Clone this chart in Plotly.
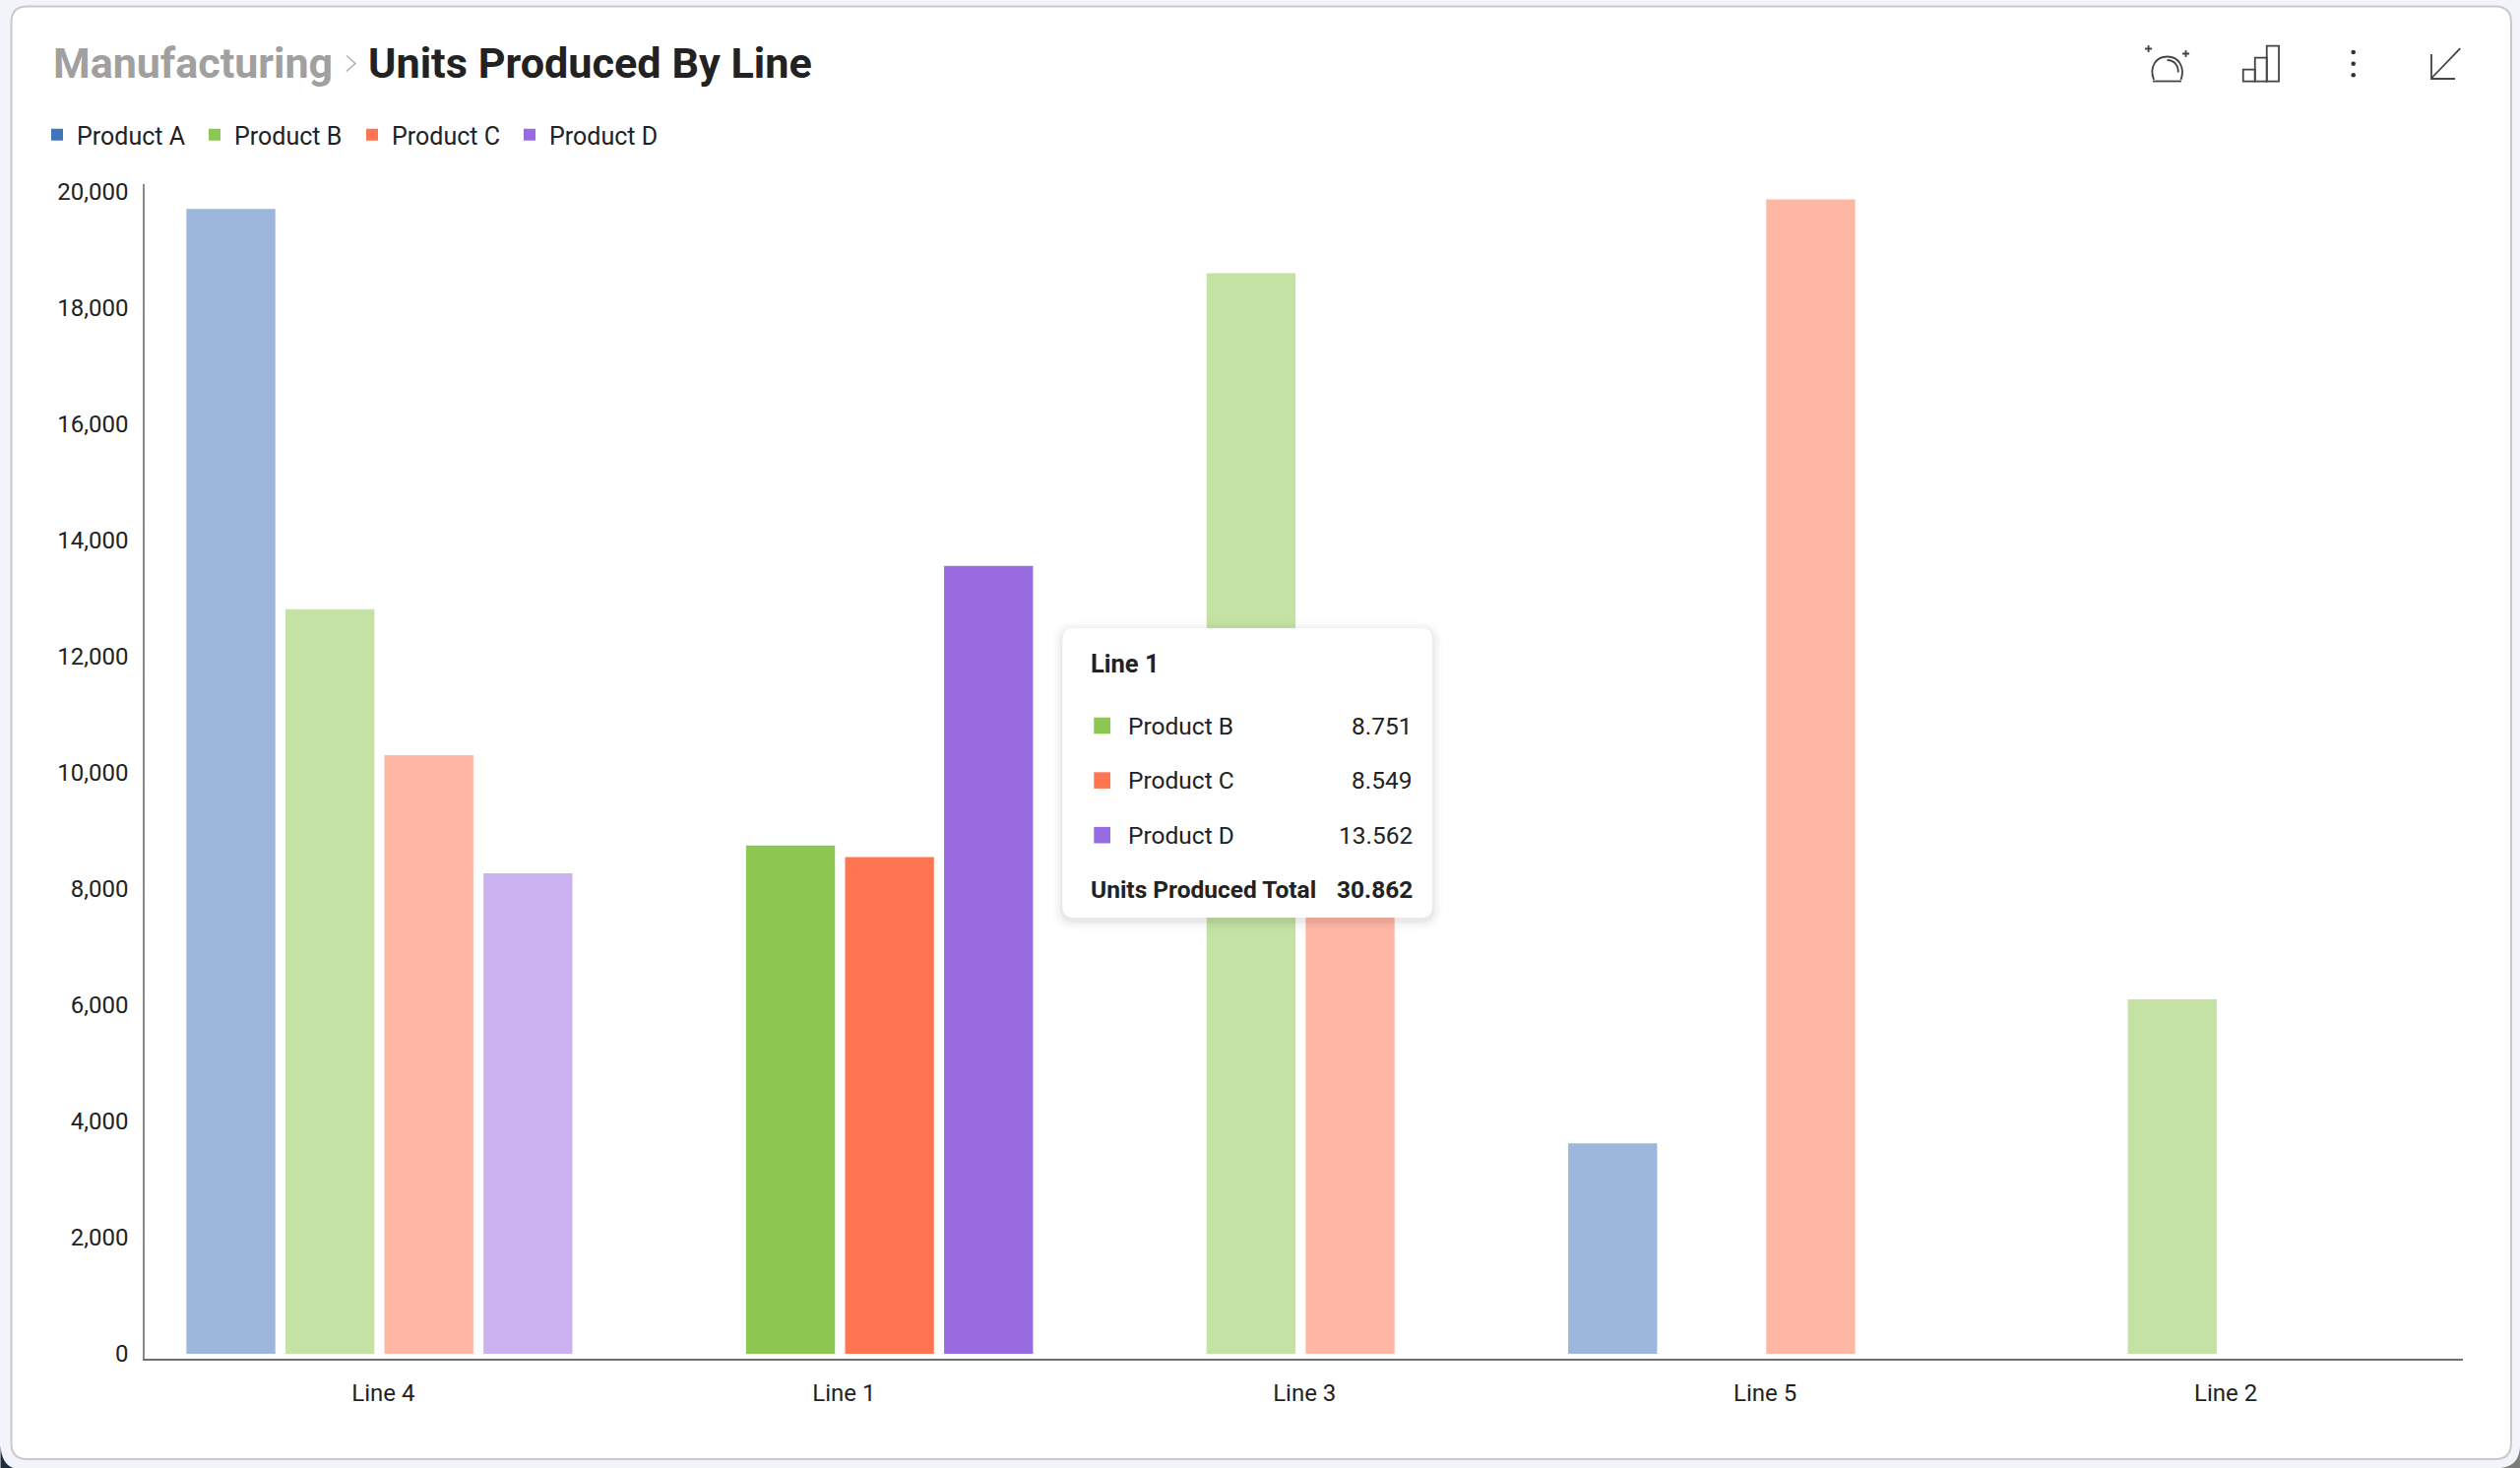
import plotly.graph_objects as go

lines = ["Line 4", "Line 1", "Line 3", "Line 5", "Line 2"]
product_a = [19710, None, None, 3624, None]
product_b = [12820, 8751, 18600, None, 6100]
product_c = [10304, 8549, 9000, 19875, None]
product_d = [8271, 13562, None, None, None]
y_ticks = [0, 2000, 4000, 6000, 8000, 10000, 12000, 14000, 16000, 18000, 20000]

highlighted = "Line 1"
series = [
    ("Product A", product_a, "#4274BA"),
    ("Product B", product_b, "#8CC751"),
    ("Product C", product_c, "#FF7552"),
    ("Product D", product_d, "#986CE0"),
]

# plot area in page pixels
LEFT, RIGHT, TOP, BOTTOM = 146.5, 2502, 187, 1380


def px(x):
    return (x - LEFT) / (RIGHT - LEFT)


def py(y):
    return (BOTTOM - y) / (BOTTOM - TOP)


def path(*items):
    # letters stay, numbers are pairs of page pixels
    out, is_x = [], True
    for it in items:
        if isinstance(it, str):
            out.append(it)
            is_x = True
        else:
            out.append(f"{px(it) if is_x else py(it):.5f}")
            is_x = not is_x
    return " ".join(out)


def round_rect(x0, y0, x1, y1, r):
    return path("M", x0 + r, y0, "L", x1 - r, y0, "Q", x1, y0, x1, y0 + r,
                "L", x1, y1 - r, "Q", x1, y1, x1 - r, y1,
                "L", x0 + r, y1, "Q", x0, y1, x0, y1 - r,
                "L", x0, y0 + r, "Q", x0, y0, x0 + r, y0, "Z")


def text(x, y, s, size=24.5, color="#222222", anchor="left", weight=400):
    return dict(text=s, x=px(x), y=py(y), xref="paper", yref="paper", xanchor=anchor, yanchor="middle",
                showarrow=False, borderpad=0, borderwidth=0,
                font=dict(family="Roboto", size=size, color=color, weight=weight))


fig = go.Figure()
for name, values, color in series:
    fig.add_trace(go.Bar(
        x=lines, y=values, name=name,
        marker=dict(color=color, line=dict(width=0),
                    opacity=[1 if l == highlighted else 0.52 for l in lines]),
    ))

shapes = []
# window corners showing behind the screenshot
shapes.append(dict(type="path", path=path("M", 0, 1468, "Q", 1, 1487, 13, 1491, "L", 0, 1491, "Z"), xref="paper", yref="paper",
                   fillcolor="#1F2C3A", line=dict(width=0), layer="below"))
shapes.append(dict(type="path", path=path("M", 2560, 1470, "Q", 2559, 1489, 2540, 1491, "L", 2560, 1491, "Z"), xref="paper", yref="paper",
                   fillcolor="#7C7C7C", line=dict(width=0), layer="below"))
# card behind the chart
shapes.append(dict(type="path", path=round_rect(11, 6.5, 2551, 1482, 16), xref="paper", yref="paper",
                   fillcolor="#FFFFFF", line=dict(color="#C8C9CC", width=2), layer="below"))

# tooltip shadow and body
for grow, alpha in [(10, 0.012), (7, 0.018), (4, 0.025), (2, 0.03)]:
    shapes.append(dict(type="path", path=round_rect(1079 - grow, 638 - grow + 3, 1455 + grow, 932 + grow + 3, 12 + grow),
                       xref="paper", yref="paper", fillcolor=f"rgba(0,0,0,{alpha})", line=dict(width=0), layer="above"))
shapes.append(dict(type="path", path=round_rect(1079, 638, 1455, 932, 12), xref="paper", yref="paper",
                   fillcolor="#FFFFFF", line=dict(width=0), layer="above"))

annotations = [
    text(53, 64.5, "Manufacturing", size=43, color="#A0A0A0", weight=700),
    text(374, 64.5, "Units Produced By Line", size=43.2, color="#222222", weight=700),
    text(1108, 674, highlighted, size=25.5, weight=700),
]

# tooltip rows come from the highlighted category
idx = lines.index(highlighted)
row_y = 737
total = 0
for name, values, color in series:
    if values[idx] is None:
        continue
    total += values[idx]
    shapes.append(dict(type="rect", x0=px(1111), x1=px(1127.7), y0=py(row_y - 8.3), y1=py(row_y + 8.3),
                       xref="paper", yref="paper", fillcolor=color, line=dict(width=0), layer="above"))
    annotations.append(text(1146, row_y, name))
    annotations.append(text(1434.5, row_y, f"{values[idx]:,}".replace(",", "."), anchor="right"))
    row_y += 55.6
annotations.append(text(1108, 903.5, "Units Produced Total", weight=700))
annotations.append(text(1434.5, 903.5, f"{total:,}".replace(",", "."), anchor="right", weight=700))

# breadcrumb chevron and toolbar icons
icon = dict(type="path", xref="paper", yref="paper", layer="above", line=dict(color="#444444", width=1.8))
shapes.append({**icon, "path": path("M", 351.5, 56.5, "L", 360.5, 64.5, "L", 351.5, 72.5),
               "line": dict(color="#B0B0B0", width=1.5)})
shapes.append({**icon, "path": path("M", 2188, 81, "C", 2183, 68, 2190, 57.5, 2201.7, 57.5,
                                    "C", 2213, 57.5, 2220, 68, 2215.5, 81)})
shapes.append({**icon, "path": path("M", 2187, 82.5, "L", 2216, 82.5)})
shapes.append({**icon, "path": path("M", 2201.5, 61, "C", 2208, 61, 2213, 66, 2212.7, 73.5)})
shapes.append({**icon, "path": path("M", 2179, 49.5, "L", 2186, 49.5, "M", 2182.5, 46, "L", 2182.5, 53)})
shapes.append({**icon, "path": path("M", 2217, 54.5, "L", 2224, 54.5, "M", 2220.5, 51, "L", 2220.5, 58)})
shapes.append({**icon, "path": path("M", 2278.7, 70.7, "L", 2290.7, 70.7, "L", 2290.7, 82.7, "L", 2278.7, 82.7, "Z")})
shapes.append({**icon, "path": path("M", 2290.7, 58.7, "L", 2302.7, 58.7, "L", 2302.7, 82.7, "L", 2290.7, 82.7, "Z")})
shapes.append({**icon, "path": path("M", 2302.7, 46.7, "L", 2315, 46.7, "L", 2315, 82.7, "L", 2302.7, 82.7, "Z")})
for dot_y in [53, 64.7, 76.3]:
    shapes.append(dict(type="circle", x0=px(2388.4), x1=px(2393), y0=py(dot_y - 2.3), y1=py(dot_y + 2.3),
                       xref="paper", yref="paper", fillcolor="#333333", line=dict(width=0), layer="above"))
shapes.append({**icon, "path": path("M", 2499.3, 49, "L", 2470, 79.5)})
shapes.append({**icon, "path": path("M", 2470, 55, "L", 2470, 80, "L", 2494, 80)})

fig.update_layout(
    width=2560,
    height=1491,
    margin=dict(l=LEFT, r=2560 - RIGHT, t=TOP, b=1491 - BOTTOM, pad=0),
    paper_bgcolor="#F2F4F9",
    plot_bgcolor="rgba(0,0,0,0)",
    barmode="group",
    bargap=0.14,
    bargroupgap=0.102,
    font=dict(family="Roboto", size=24, color="#222222"),
    shapes=shapes,
    annotations=annotations,
    legend=dict(
        orientation="h", x=px(37.5), xanchor="left", y=py(137), yanchor="middle",
        bgcolor="rgba(0,0,0,0)", entrywidth=115, entrywidthmode="pixels",
        font=dict(family="Roboto", size=25, color="#222222"),
    ),
    xaxis=dict(
        type="category", categoryorder="array", categoryarray=lines,
        range=[-0.5096, 4.5235], showgrid=False, zeroline=False,
        showline=True, linecolor="#6E6E6E", linewidth=2, ticks="",
        ticklabelshift=4, ticklabelstandoff=12, tickfont=dict(size=24),
    ),
    yaxis=dict(
        range=[-85, 20136], tickmode="array", tickvals=y_ticks, tickformat=",",
        showgrid=False, zeroline=False, showline=True, linecolor="#8A8A8A", linewidth=1.5,
        ticks="", ticklabelstandoff=10, tickfont=dict(size=24),
    ),
)

# drop the browser's default page margin so the figure fills the window
fig.write_html("out.html", config={"displayModeBar": False},
               post_script="document.body.style.margin='0';document.body.style.overflow='hidden';")
